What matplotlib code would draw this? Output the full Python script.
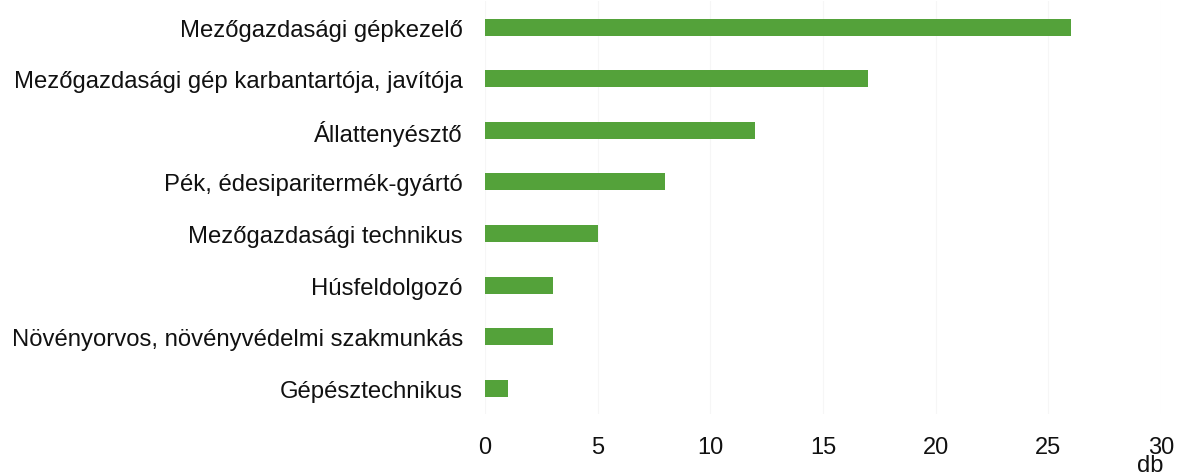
import matplotlib
matplotlib.use("Agg")
import matplotlib.pyplot as plt

plt.rcParams['font.family'] = ['Liberation Sans', 'DejaVu Sans']

occupations = [
    "Mezőgazdasági gépkezelő",
    "Mezőgazdasági gép karbantartója, javítója",
    "Állattenyésztő",
    "Pék, édesiparitermék-gyártó",
    "Mezőgazdasági technikus",
    "Húsfeldolgozó",
    "Növényorvos, növényvédelmi szakmunkás",
    "Gépésztechnikus",
]
counts = [26, 17, 12, 8, 5, 3, 3, 1]
x_ticks = [0, 5, 10, 15, 20, 25, 30]
unit_label = "db"

fig = plt.figure(figsize=(11.86, 4.77), dpi=100)
ax = fig.add_axes([0.409, 0.130, 0.570, 0.865])

positions = list(range(len(occupations)))
ax.barh(positions, counts, height=0.33, color="#54a23a", zorder=2)

ax.set_yticks(positions)
ax.set_yticklabels(occupations, fontsize=17.2, color="#111111")
ax.set_ylim(len(occupations) - 0.5, -0.5)
ax.set_xlim(0, 30)
ax.set_xticks(x_ticks)
ax.set_xticklabels([str(t) for t in x_ticks], fontsize=17, color="#111111")

ax.tick_params(axis="both", length=0)
ax.tick_params(axis="y", pad=16)
ax.tick_params(axis="x", pad=16)
for s in ax.spines.values():
    s.set_visible(False)
ax.xaxis.grid(True, color="#f6f6f6", linewidth=0.8, zorder=0)

# unit label under the last tick
ax.text(29.5, -0.098, unit_label, transform=ax.get_xaxis_transform(),
        fontsize=17, color="#111111", ha="center", va="top")

fig.savefig("out.png", dpi=100, facecolor="white")
